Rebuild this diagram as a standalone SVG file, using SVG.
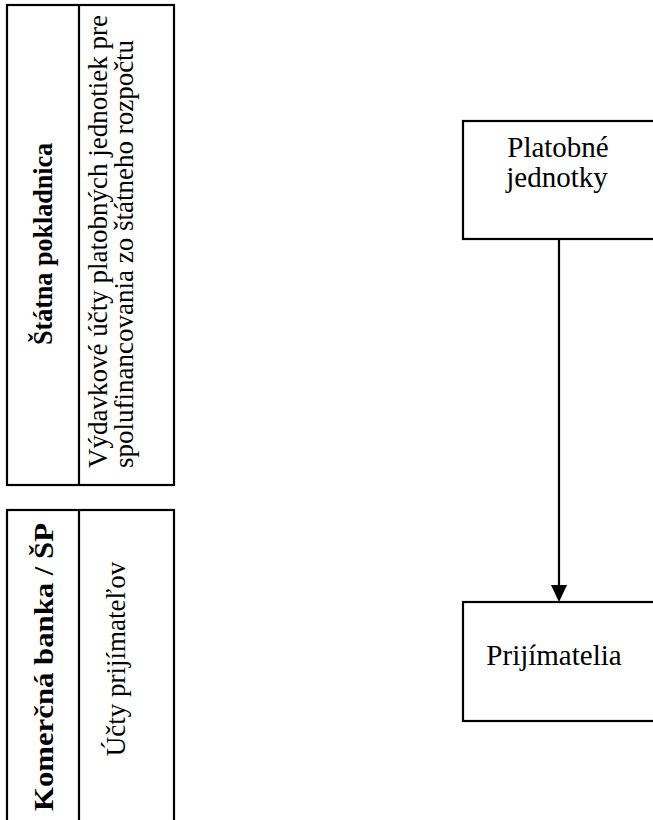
<svg xmlns="http://www.w3.org/2000/svg" width="653" height="820" viewBox="0 0 653 820">
<style>
.box{fill:#fff;stroke:#000;stroke-width:2.2}
.t{font-family:"Liberation Serif","Times New Roman",serif;fill:#000}
.b{font-weight:bold;font-size:28px}
.d{font-size:27px}
.r{font-size:29px}
.conn{stroke:#000;stroke-width:2.2;fill:none}
</style>
<rect width="653" height="820" fill="#fff"/>
<g id="statna-pokladnica">
<rect class="box" x="7" y="5" width="167" height="480"/>
<line class="conn" x1="79" y1="5" x2="79" y2="485"/>
<text class="t b" transform="translate(52,244) rotate(-90)" text-anchor="middle" textLength="202" lengthAdjust="spacingAndGlyphs">Štátna pokladnica</text>
<text class="t d" transform="translate(107,468) rotate(-90)">Výdavkové účty platobných jednotiek pre</text>
<text class="t d" transform="translate(133,468) rotate(-90)">spolufinancovania zo štátneho rozpočtu</text>
</g>
<g id="komercna-banka">
<rect class="box" x="7" y="510" width="167" height="320"/>
<line class="conn" x1="79" y1="510" x2="79" y2="830"/>
<text class="t b" transform="translate(53,667) rotate(-90)" text-anchor="middle" textLength="288" lengthAdjust="spacingAndGlyphs">Komerčná banka / ŠP</text>
<text class="t d" transform="translate(125,659) rotate(-90)" text-anchor="middle">Účty prijímateľov</text>
</g>
<g id="platobne-jednotky">
<rect class="box" x="463" y="121" width="200" height="118"/>
<text class="t r" x="558" y="157" text-anchor="middle">Platobné</text>
<text class="t r" x="557" y="187" text-anchor="middle">jednotky</text>
</g>
<g id="prijimatelia">
<rect class="box" x="463" y="602" width="200" height="119"/>
<text class="t r" x="554" y="665" text-anchor="middle">Prijímatelia</text>
</g>
<g id="connectors">
<line class="conn" x1="559" y1="239" x2="559" y2="587"/>
<path d="M551,585 L567,585 L559,602 Z" fill="#000"/>
</g>
</svg>
